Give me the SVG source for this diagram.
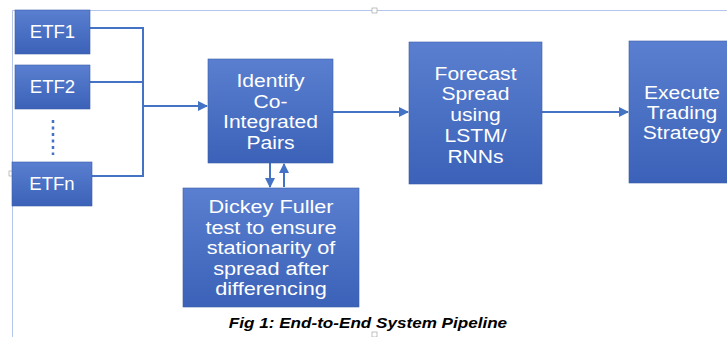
<svg xmlns="http://www.w3.org/2000/svg" width="727" height="337" viewBox="0 0 727 337">
<defs>
<linearGradient id="g" x1="0" y1="0" x2="0" y2="1">
<stop offset="0" stop-color="#5a7fd0"/>
<stop offset="1" stop-color="#3b62b8"/>
</linearGradient>
<marker id="ah" markerWidth="10" markerHeight="10" refX="9" refY="5" orient="auto" markerUnits="userSpaceOnUse">
<path d="M0,0 L10,5 L0,10 Z" fill="#4472c4"/>
</marker>
<style>
.box{fill:url(#g);stroke:#3a5fa8;stroke-width:0.6}
.t{font-family:"Liberation Sans",Arial,sans-serif;fill:#ffffff;text-anchor:middle}
.c{fill:none;stroke:#4472c4;stroke-width:2}
.f{fill:none;stroke:#b4c6ea;stroke-width:1}
</style>
</defs>
<rect width="727" height="337" fill="#ffffff"/>
<g id="frame">
<path class="f" d="M12.5,10.5 H727 M12.5,10.5 V337"/>
<rect x="372" y="8" width="5" height="5" fill="#fff" stroke="#999" stroke-width="0.6"/>
<rect x="9" y="171" width="5" height="5" fill="#fff" stroke="#999" stroke-width="0.6"/>
<rect x="372" y="332" width="5" height="5" fill="#fff" stroke="#999" stroke-width="0.6"/>
</g>
<g id="connectors">
<path class="c" d="M90,28 H143 M90,82 H143 M92,176 H143 M143,27 V177"/>
<path class="c" d="M143,106 H207" marker-end="url(#ah)"/>
<path class="c" d="M270,163 V187" marker-end="url(#ah)"/>
<path class="c" d="M284,187 V164" marker-end="url(#ah)"/>
<path class="c" d="M333,112 H408" marker-end="url(#ah)"/>
<path class="c" d="M542,112 H628" marker-end="url(#ah)"/>
<path d="M53,120 V155" stroke="#4472c4" stroke-width="2.5" stroke-dasharray="3,3.5" fill="none"/>
</g>
<g id="etf1">
<rect class="box" x="15" y="10" width="75" height="44"/>
<g transform="translate(52.5,0) scale(1.06,1)"><text class="t" x="0" y="38.5" font-size="17.5">ETF1</text></g>
</g>
<g id="etf2">
<rect class="box" x="15" y="65" width="75" height="44"/>
<g transform="translate(52.5,0) scale(1.06,1)"><text class="t" x="0" y="93.5" font-size="17.5">ETF2</text></g>
</g>
<g id="etfn">
<rect class="box" x="12" y="162" width="80" height="44"/>
<g transform="translate(52,0) scale(1.06,1)"><text class="t" x="0" y="190.5" font-size="17.5">ETFn</text></g>
</g>
<g id="identify">
<rect class="box" x="208" y="59" width="125" height="104"/>
<g transform="translate(270.5,0) scale(1.14,1)"><text class="t" font-size="18.5"><tspan x="0" y="87">Identify</tspan><tspan x="0" y="108">Co-</tspan><tspan x="0" y="128.5">Integrated</tspan><tspan x="0" y="149">Pairs</tspan></text></g>
</g>
<g id="dickey">
<rect class="box" x="183" y="188" width="176" height="119"/>
<g transform="translate(271,0) scale(1.14,1)"><text class="t" font-size="19"><tspan x="0" y="213">Dickey Fuller</tspan><tspan x="0" y="234">test to ensure</tspan><tspan x="0" y="254.5">stationarity of</tspan><tspan x="0" y="275.5">spread after</tspan><tspan x="0" y="295">differencing</tspan></text></g>
</g>
<g id="forecast">
<rect class="box" x="409" y="42" width="133" height="142"/>
<g transform="translate(475.5,0) scale(1.14,1)"><text class="t" font-size="18.5"><tspan x="0" y="80">Forecast</tspan><tspan x="0" y="100">Spread</tspan><tspan x="0" y="121">using</tspan><tspan x="0" y="142">LSTM/</tspan><tspan x="0" y="163">RNNs</tspan></text></g>
</g>
<g id="execute">
<rect class="box" x="629" y="41" width="110" height="142"/>
<g transform="translate(682,0) scale(1.14,1)"><text class="t" font-size="18.5"><tspan x="0" y="99">Execute</tspan><tspan x="0" y="119">Trading</tspan><tspan x="0" y="139">Strategy</tspan></text></g>
</g>
<g transform="translate(368,0) scale(1.14,1)"><text x="0" y="328" font-family="'Liberation Sans',Arial,sans-serif" font-size="15" font-weight="bold" font-style="italic" text-anchor="middle" fill="#000">Fig 1: End-to-End System Pipeline</text></g>
</svg>
